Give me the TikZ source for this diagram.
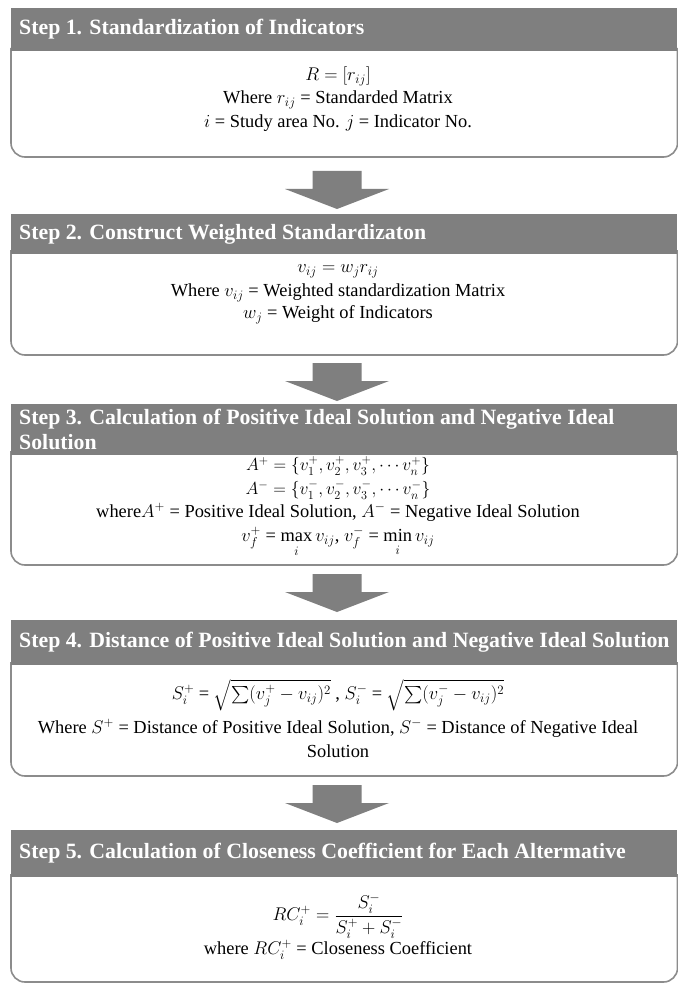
\RequirePackage{fix-cm}
\documentclass[tikz,border=0pt]{standalone}
\usepackage{amsmath}
\usepackage{fontspec}
\setmainfont{Liberation Serif}
\definecolor{hdr}{HTML}{7F7F7F}
\definecolor{bord}{HTML}{8C8C8C}
\definecolor{arr}{HTML}{7F7F7F}
\tikzset{
  hdrbar/.style={fill=hdr, draw=none},
  hdrtext/.style={text=white, font=\bfseries\fontsize{21.8}{25}\selectfont, anchor=west, inner sep=0pt, align=left},
  bodyframe/.style={draw=bord, line width=1.6pt, rounded corners=14pt},
  bodytext/.style={font=\fontsize{18.4}{22}\selectfont, align=center, inner sep=0pt},
  mathline/.style={font=\fontsize{17.5}{21}\selectfont, align=center, inner sep=0pt},
  blockarrow/.style={fill=arr, draw=none}
}
\newcommand{\lowi}{\lower3pt\hbox{$\scriptstyle i$}}
\newcommand{\downarrowblock}[2]{% name, top y
  \coordinate (#1) at (337,#2);
  \fill[blockarrow] ([xshift=-24.5pt]#1) -- ([xshift=24.5pt]#1) -- ([xshift=24.5pt,yshift=-18pt]#1)
     -- ([xshift=52pt,yshift=-18pt]#1) -- ([yshift=-38pt]#1) -- ([xshift=-52pt,yshift=-18pt]#1)
     -- ([xshift=-24.5pt,yshift=-18pt]#1) -- cycle;}
\begin{document}
\begin{tikzpicture}[x=1pt,y=-1pt]
\useasboundingbox (0,0) rectangle (677,984);
\fill[white] (0,0) rectangle (677,984);

% ---------- Step 1
\draw[bodyframe] (11,48) -- (11,157) -- (677.5,157) -- (677.5,48);
\fill[hdrbar] (11,8) rectangle (677,51);
\node[hdrtext] (h1) at (19,29) {Step 1. Standardization of Indicators};
\node[bodytext] (b1a) at (338,76) {$R=\left[r_{ij}\right]$};
\node[bodytext] (b1b) at (338,100) {Where $r_{ij}$ = Standarded Matrix};
\node[bodytext] (b1c) at (338,123) {$i$ = Study area No. $j$ = Indicator No.};

\downarrowblock{a1}{171}

% ---------- Step 2
\draw[bodyframe] (11,250) -- (11,355) -- (677.5,355) -- (677.5,250);
\fill[hdrbar] (11,214) rectangle (677,254);
\node[hdrtext] (h2) at (19,234) {Step 2. Construct Weighted Standardizaton};
\node[bodytext] (b2a) at (338,271) {$v_{ij}=w_j r_{ij}$};
\node[bodytext] (b2b) at (338,293) {Where $v_{ij}$ = Weighted standardization Matrix};
\node[bodytext] (b2c) at (338,315) {$w_j$ = Weight of Indicators};

\downarrowblock{a2}{363}

% ---------- Step 3
\draw[bodyframe] (11,451) -- (11,565) -- (677.5,565) -- (677.5,451);
\fill[hdrbar] (11,404) rectangle (677,455);
\node[hdrtext, font=\bfseries\fontsize{21.8}{24.5}\selectfont] (h3) at (19,429.5) {Step 3. Calculation of Positive Ideal Solution and Negative Ideal\\Solution};
\node[mathline] (b3a) at (338,466) {$A^{+}=\{v_1^{+},v_2^{+},v_3^{+},\cdots v_n^{+}\}$};
\node[mathline] (b3b) at (338,490) {$A^{-}=\{v_1^{-},v_2^{-},v_3^{-},\cdots v_n^{-}\}$};
\node[bodytext] (b3c) at (338,512) {where$A^{+}$ = Positive Ideal Solution, $A^{-}$ = Negative Ideal Solution};
\node[bodytext, anchor=base] (b3d) at (338,541.5) {$v_f^{+}$ = $\max\limits_{\lowi} v_{ij}$, $v_f^{-}$ = $\min\limits_{\lowi} v_{ij}$};

\downarrowblock{a3}{574}

% ---------- Step 4
\draw[bodyframe] (11,662) -- (11,776) -- (677.5,776) -- (677.5,662);
\fill[hdrbar] (11,620) rectangle (677,665);
\node[hdrtext] (h4) at (19,642) {Step 4. Distance of Positive Ideal Solution and Negative Ideal Solution};
\node[bodytext] (b4a) at (338,695) {$S_i^{+}$ = $\sqrt{\sum(v_j^{+}-v_{ij})^2}$ , $S_i^{-}$ = $\sqrt{\sum(v_j^{-}-v_{ij})^2}$};
\node[bodytext] (b4b) at (338,728) {Where $S^{+}$ = Distance of Positive Ideal Solution, $S^{-}$ = Distance of Negative Ideal};
\node[bodytext] (b4c) at (338,751) {Solution};

\downarrowblock{a4}{785}

% ---------- Step 5
\draw[bodyframe] (11,874) -- (11,982) -- (677.5,982) -- (677.5,874);
\fill[hdrbar] (11,830) rectangle (677,877);
\node[hdrtext] (h5) at (19,853) {Step 5. Calculation of Closeness Coefficient for Each Altermative};
\node[bodytext] (b5a) at (338,916) {$RC_i^{+}=\dfrac{S_i^{-}}{S_i^{+}+S_i^{-}}$};
\node[bodytext] (b5b) at (338,950) {where $RC_i^{+}$ = Closeness Coefficient};
\end{tikzpicture}
\end{document}
